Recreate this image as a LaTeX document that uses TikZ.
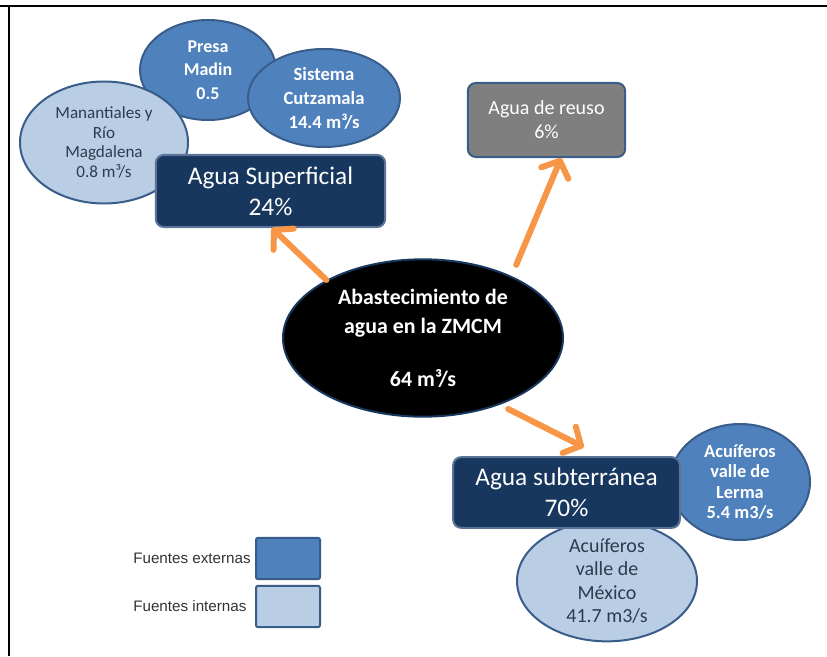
\documentclass[tikz,border=0pt]{standalone}
\usepackage{fontspec}
\setmainfont{Carlito}
\newfontfamily\legfont{Liberation Sans}
\usetikzlibrary{positioning, arrows.meta, shapes.geometric, calc}
\definecolor{navybox}{HTML}{17375E}
\definecolor{boxline}{HTML}{5A7397}
\definecolor{extblue}{HTML}{4F81BD}
\definecolor{intblue}{HTML}{B9CDE5}
\definecolor{blueline}{HTML}{385D8A}
\definecolor{reusegray}{HTML}{7F7F7F}
\definecolor{arrorange}{HTML}{F79646}
\definecolor{inttext}{HTML}{2E3B4E}

\begin{document}
\begin{tikzpicture}[x=0.75pt, y=-0.75pt,
    source/.style={ellipse, draw=blueline, line width=1.5pt, inner sep=0pt, align=center},
    extsrc/.style={source, fill=extblue, text=white},
    intsrc/.style={source, fill=intblue, text=inttext},
    share/.style={draw=boxline, line width=1.5pt, fill=navybox, rounded corners=6pt, inner sep=0pt,
      text=white, align=center, font=\fontsize{19}{23}\selectfont},
    legbox/.style={draw=blueline, line width=1.5pt, rounded corners=1.5pt, minimum width=48pt, minimum height=31pt},
    legtext/.style={anchor=west, inner sep=0pt, font=\legfont\fontsize{11.4}{13}\selectfont, text=black!80},
    flow/.style={draw=arrorange, line width=4.5pt, line cap=round,
      -{Straight Barb[length=10pt, width=22pt, round]}},
  ]
  \useasboundingbox (0,0) rectangle (827,656);
  % frame
  \draw[line width=1.8pt] (0,6) -- (827,6);
  \draw[line width=1.8pt] (9,6) -- (9,656);

  % surface sources
  \node[extsrc, minimum width=102pt, minimum height=75pt, font=\fontsize{13.5}{17.6}\selectfont\bfseries]
    (madin) at (208,70) {Presa\\Madin\\0.5};
  \node[extsrc, minimum width=114pt, minimum height=73.5pt, font=\fontsize{14}{18}\selectfont\bfseries]
    (cutz) at (324,98) {Sistema\\Cutzamala\\14.4 m³/s};
  \node[intsrc, minimum width=126pt, minimum height=91.5pt, font=\fontsize{12.8}{14.8}\selectfont]
    (manan) at (104,142.5) {Manantiales y\\Río\\Magdalena\\0.8 m³/s};
  \node[share, minimum width=172pt, minimum height=54pt] (sup) at (270.5,191) {Agua Superficial\\24\%};

  % reuse
  \node[draw=blueline, line width=1.5pt, fill=reusegray, rounded corners=6pt, text=white, align=center,
    minimum width=118pt, minimum height=55.5pt, font=\fontsize{15}{18}\selectfont]
    (reuso) at (546.5,120) {Agua de reuso\\6\%};

  % centre
  \node[ellipse, draw=navybox, line width=1.5pt, fill=black, text=white, align=center, inner sep=0pt,
    minimum width=210pt, minimum height=118pt, font=\fontsize{16.4}{21.75}\selectfont\bfseries]
    (abast) at (423,338) {Abastecimiento de\\agua en la ZMCM\\[18pt]64 m³/s};

  % groundwater sources
  \node[extsrc, minimum width=105pt, minimum height=87pt, font=\fontsize{13.8}{15.2}\selectfont\bfseries]
    (lerma) at (740,482) {Acuíferos\\valle de\\Lerma\\5.4 m3/s};
  \node[intsrc, minimum width=135pt, minimum height=88pt, font=\fontsize{15}{17.7}\selectfont]
    (mexico) at (607,581) {Acuíferos\\valle de\\México\\41.7 m3/s};
  \node[share, minimum width=170pt, minimum height=53pt] (sub) at (566.5,492.5) {Agua subterránea\\70\%};

  \draw[flow] (abast.149.5) -- (sup.272);
  \draw[flow, shorten <=9pt] (abast.35) -- (reuso.291);
  \draw[flow, shorten <=7pt, shorten >=15pt] (abast.-41) -- (sub.46);

  % legend
  \node[legbox, fill=extblue] (legext) at (288,558.5) {};
  \node[legbox, fill=intblue] (legint) at (288,606.5) {};
  \node[legtext] (txtext) at (133,558) {Fuentes externas};
  \node[legtext] (txtint) at (133,606) {Fuentes internas};
\end{tikzpicture}
\end{document}
